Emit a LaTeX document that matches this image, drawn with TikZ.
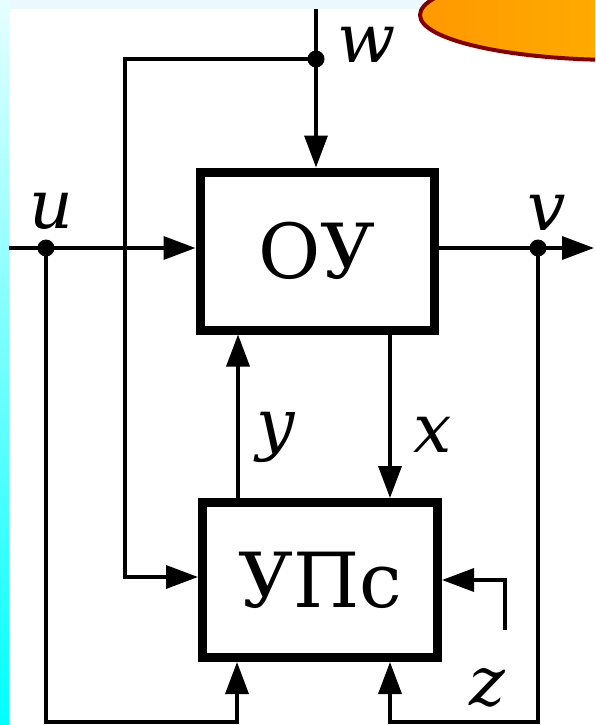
\documentclass[tikz,border=0pt]{standalone}
\usepackage{fontspec}
\setmainfont{DejaVu Serif}
\newfontfamily\diagfont{DejaVu Serif}
\usetikzlibrary{arrows.meta}

\definecolor{ovalrim}{HTML}{800000}
\definecolor{ovalleft}{HTML}{FF9900}
\definecolor{ovalright}{HTML}{FFC000}

\tikzset{
  block/.style={draw, line width=9pt, inner sep=0pt, font=\diagfont\fontsize{76}{76}\selectfont},
  sig/.style={line width=3.5pt},
  arr/.style={sig, -{Triangle[length=32pt,width=23pt]}},
  lbl/.style={anchor=base, inner sep=0pt, font=\diagfont\fontsize{68}{68}\selectfont\itshape},
  dot/.style={circle, fill, inner sep=0pt, minimum size=17pt},
}

\begin{document}
\begin{tikzpicture}[x=1pt,y=-1pt]
\clip (0,0) rectangle (595,725);
\fill[white] (0,0) rectangle (595,725);
% slide background
\shade[top color=cyan!10, bottom color=cyan] (0,0) rectangle (9,725);
\fill[cyan!8] (9,0) rectangle (423,9);
\shade[draw=ovalrim, line width=4pt, left color=ovalleft, right color=ovalright] (620,15) ellipse [x radius=200, y radius=45];

% blocks
\node[block, minimum width=234pt, minimum height=158pt] (ou) at (317,251) {ОУ};
\node[block, minimum width=235pt, minimum height=155pt] (upc) at (320,580) {УПс};

% junctions
\coordinate (uin) at (9,248);
\node[dot] (udot) at (46,248) {};
\coordinate (fbtop) at (125,59);
\coordinate (fbbot) at (125,577);
\coordinate (wtop) at (316,9);
\node[dot] (wdot) at (316,59) {};
\node[dot] (vdot) at (538,248) {};
\coordinate (vout) at (594,248);
\coordinate (lbot) at (46,722);
\coordinate (lin) at (237,722);
\coordinate (rbot) at (538,722);
\coordinate (rin) at (390,722);
\coordinate (ylink) at (238,420);
\coordinate (zbend) at (505,580);
\coordinate (ztail) at (505,630);

% signals
\draw[arr] (uin) -- (ou.west |- uin);
\draw[arr] (wtop) -- (wtop |- ou.north);
\draw[arr] (wdot.center) -- (fbtop) -- (fbbot) -- (fbbot -| upc.west);
\draw[arr] (udot.center) -- (lbot) -- (lin) -- (lin |- upc.south);
\draw[arr] (ou.east |- vdot) -- (vout);
\draw[arr] (vdot.center) -- (rbot) -- (rin) -- (rin |- upc.south);
\draw[arr] (ylink |- upc.north) -- (ylink |- ou.south);
\draw[arr] (rin |- ou.south) -- (rin |- upc.north);
\draw[arr] (ztail) -- (zbend) -- (zbend -| upc.east);

% labels
\node[lbl] (ulbl) at (51,228) {u};
\node[lbl] (wlbl) at (367,63) {w};
\node[lbl] (vlbl) at (547,230) {v};
\node[lbl] (ylbl) at (276,447) {y};
\node[lbl] (xlbl) at (433,452) {x};
\node[lbl] (zlbl) at (487,705) {z};
\end{tikzpicture}
\end{document}
